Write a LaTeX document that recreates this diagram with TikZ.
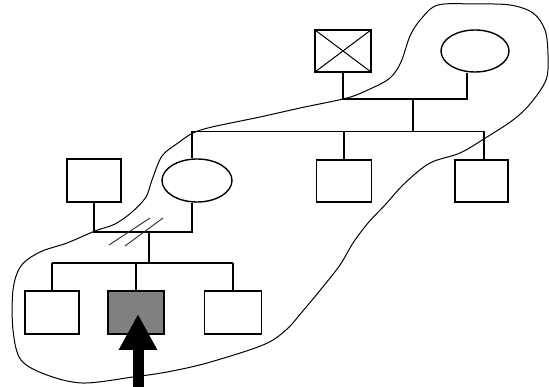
\documentclass[tikz,border=0pt]{standalone}
\usetikzlibrary{shapes.geometric,arrows.meta,calc}
\begin{document}
\begin{tikzpicture}[x=1pt,y=-1pt,
  link/.style={draw=black, line width=1.5pt},
  male/.style={draw=black, line width=1.5pt, rectangle, minimum width=55pt, minimum height=43pt, inner sep=0pt},
  female/.style={draw=black, line width=1.4pt, ellipse, minimum width=69pt, minimum height=42pt, inner sep=0pt},
  deceased/.style={path picture={\draw[line width=1pt]
      (path picture bounding box.north west) -- (path picture bounding box.south east)
      (path picture bounding box.south west) -- (path picture bounding box.north east);}},
  affected/.style={fill=black!50},
  outline/.style={draw=black, line width=1pt},
  slash/.style={draw=black!85, line width=0.9pt},
  pointer/.style={draw=black, line width=11pt, -{Triangle[length=36pt,width=36pt]}}]
\useasboundingbox (0,0) rectangle (549,387);

% first generation
\node[male, deceased, minimum width=56pt, minimum height=42pt] (gf) at (343,51) {};
\node[female, minimum width=68pt] (gm) at (475,51) {};
\coordinate (c1) at (343,99);
\coordinate (c2) at (467,99);
\coordinate (c3) at (413,99);
\draw[link] (gf.south) -- (c1) -- (c2) -- (gm.south -| c2);

% second generation
\coordinate (s1) at (413,131.5);
\coordinate (s2) at (192,131.5);
\coordinate (s3) at (484,131.5);
\node[female, minimum width=70pt, minimum height=43pt] (mom) at (197,180.5) {};
\node[male, minimum width=55pt, minimum height=42pt] (u2) at (344,181) {};
\node[male, minimum width=53pt, minimum height=42pt] (r2) at (481.5,181) {};
\node[male, minimum width=54pt, minimum height=43pt] (f2) at (94,180.5) {};
\draw[link] (c3) -- (s1);
\draw[link] (s2) -- (s3);
\draw[link] (s2) -- (mom.north -| s2);
\draw[link] (u2.north) -- (u2.north |- s2);
\draw[link] (s3) -- (s3 |- r2.north);

% marriage with separation marks
\coordinate (ml) at (192,232);
\coordinate (d1) at (149,232);
\coordinate (d2) at (149,263);
\draw[link] (f2.south) |- (ml) -- (ml |- mom.south);
\draw[link] (d1) -- (d2);
\coordinate (sa1) at (109,245); \coordinate (sa2) at (150,218);
\coordinate (sb1) at (125,246); \coordinate (sb2) at (163,218);
\draw[slash] (sa1) -- (sa2);
\draw[slash] (sb1) -- (sb2);

% third generation
\coordinate (k1) at (52,263);
\coordinate (k2) at (136,263);
\coordinate (k3) at (233,263);
\node[male, minimum width=54pt] (ch1) at (52,312.5) {};
\node[male, affected, minimum width=56pt] (pb) at (136,312.5) {};
\node[male, minimum width=57pt] (ch3) at (233,312.5) {};
\draw[link] (k1) -- (k3);
\draw[link] (k1) -- (ch1.north);
\draw[link] (k2) -- (pb.north);
\draw[link] (k3) -- (ch3.north);

% circled family members
\draw[outline] plot[smooth cycle, tension=0.55] coordinates {
  (438,5) (475,4) (510,5) (533,13) (545,30) (548,55) (546,80) (530,104)
  (513,120) (487,137) (460,153) (430,163) (405,183) (385,205) (368,223)
  (353,243) (340,265) (322,288) (302,312) (286,330) (263,345) (207,363)
  (167,372) (133,377) (83,383) (47,375) (21,360) (13,330) (13,290)
  (21,266) (40,252) (67,243) (95,231) (115,224) (132,212) (146,197)
  (152,180) (162,156) (178,143) (193,133) (212,127) (260,117) (300,108)
  (347,98) (370,89) (390,78) (401,62) (410,36) (421,19)};

% proband arrow
\coordinate (tip) at (138,314);
\coordinate (foot) at (138,392);
\draw[pointer] (foot) -- (tip);
\end{tikzpicture}
\end{document}
